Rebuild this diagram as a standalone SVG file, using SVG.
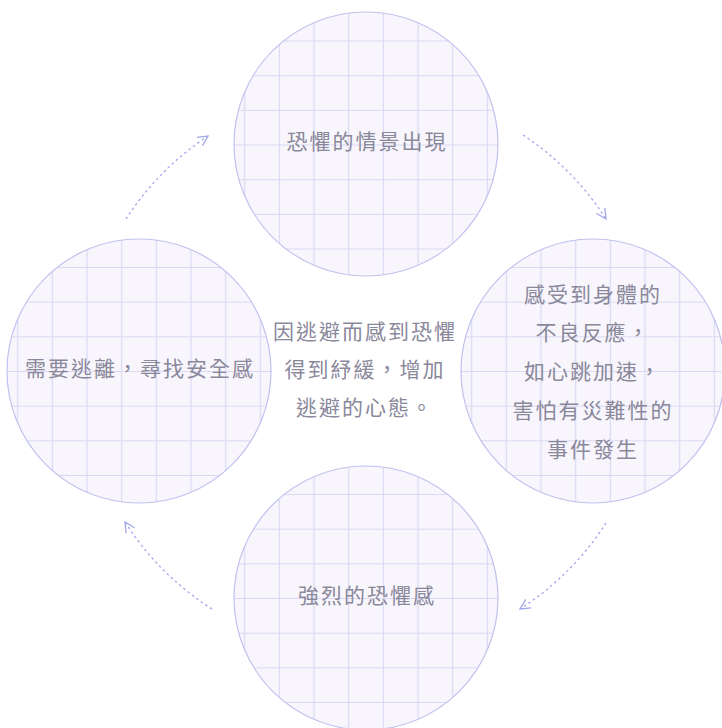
<svg xmlns="http://www.w3.org/2000/svg" width="722" height="728" viewBox="0 0 722 728">
<style>
.circ{stroke:#bfc2ee;stroke-width:1.2}
.gl{stroke:#d9d9f3;stroke-width:1.2;fill:none}
.lbl{font-family:"Noto Sans CJK TC","Noto Sans CJK SC",sans-serif;font-size:21px;fill:#8a889b;text-anchor:middle;letter-spacing:2px}
.arr{fill:none;stroke:#a3a7ea;stroke-width:1.3;stroke-dasharray:2.5 3}
</style>
<defs>
<pattern id="gT" patternUnits="userSpaceOnUse" x="331.37" y="127.67" width="34.67" height="34.67">
<rect width="34.67" height="34.67" fill="#f8f6fc"/><path class="gl" d="M17.33 0V34.67M0 17.33H34.67"/></pattern>
<pattern id="gR" patternUnits="userSpaceOnUse" x="558.37" y="354.17" width="34.67" height="34.67">
<rect width="34.67" height="34.67" fill="#f8f6fc"/><path class="gl" d="M17.33 0V34.67M0 17.33H34.67"/></pattern>
<pattern id="gL" patternUnits="userSpaceOnUse" x="104.37" y="354.17" width="34.67" height="34.67">
<rect width="34.67" height="34.67" fill="#f8f6fc"/><path class="gl" d="M17.33 0V34.67M0 17.33H34.67"/></pattern>
<pattern id="gB" patternUnits="userSpaceOnUse" x="331.37" y="581.17" width="34.67" height="34.67">
<rect width="34.67" height="34.67" fill="#f8f6fc"/><path class="gl" d="M17.33 0V34.67M0 17.33H34.67"/></pattern>
<marker id="ah" markerUnits="userSpaceOnUse" markerWidth="16" markerHeight="16" refX="11" refY="6" orient="auto" viewBox="0 0 16 12">
<path d="M1 1L11 6L1 11" fill="none" stroke="#a3a7ea" stroke-width="1.3"/>
</marker>
</defs>
<g id="connectors">
<path class="arr" d="M126 219A283 283 0 0 1 208 136" marker-end="url(#ah)"/>
<path class="arr" d="M523 135A283 283 0 0 1 606 219" marker-end="url(#ah)"/>
<path class="arr" d="M606 523A283 283 0 0 1 520 609" marker-end="url(#ah)"/>
<path class="arr" d="M212 609A283 283 0 0 1 125 522" marker-end="url(#ah)"/>
</g>
<g id="node-top">
<circle class="circ" cx="366" cy="144" r="132" fill="url(#gT)"/>
<text class="lbl" x="367" y="149">恐懼的情景出現</text>
</g>
<g id="node-right">
<circle class="circ" cx="593" cy="371" r="132" fill="url(#gR)"/>
<text class="lbl" x="593" y="302">感受到身體的</text>
<text class="lbl" x="593" y="340">不良反應，</text>
<text class="lbl" x="593" y="379">如心跳加速，</text>
<text class="lbl" x="593" y="418">害怕有災難性的</text>
<text class="lbl" x="593" y="457">事件發生</text>
</g>
<g id="node-bottom">
<circle class="circ" cx="366" cy="598" r="132" fill="url(#gB)"/>
<text class="lbl" x="367" y="603">強烈的恐懼感</text>
</g>
<g id="node-left">
<circle class="circ" cx="139" cy="371" r="132" fill="url(#gL)"/>
<text class="lbl" x="140" y="376">需要逃離，尋找安全感</text>
</g>
<g id="center-text">
<text class="lbl" x="365" y="339">因逃避而感到恐懼</text>
<text class="lbl" x="365" y="377">得到紓緩，增加</text>
<text class="lbl" x="365" y="415">逃避的心態。</text>
</g>
</svg>
